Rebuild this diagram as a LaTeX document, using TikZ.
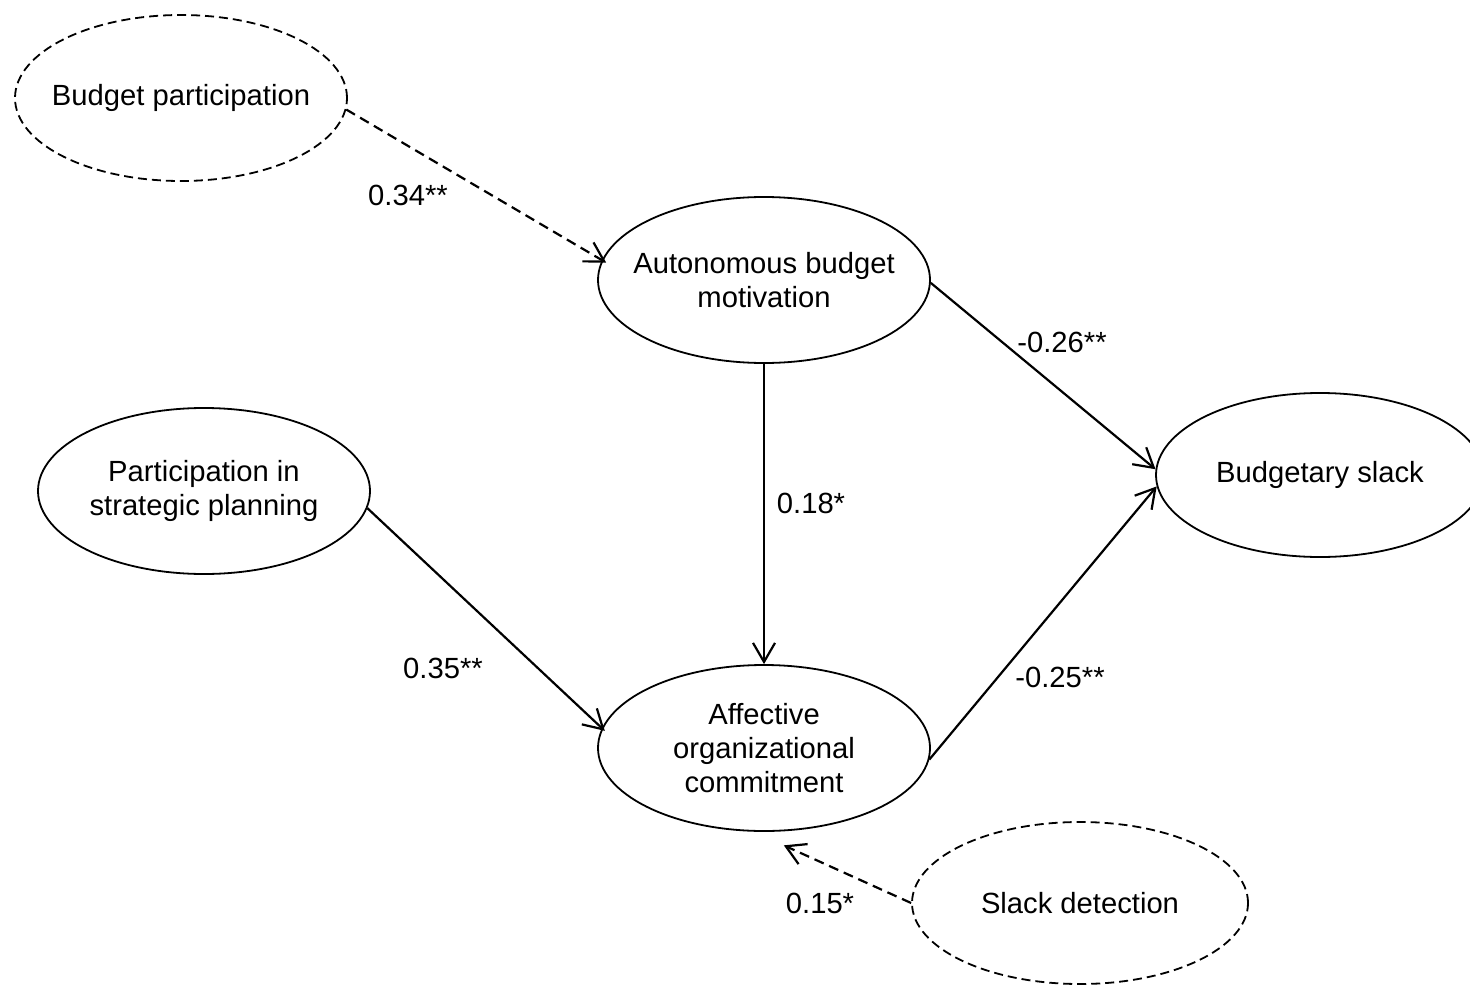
\documentclass[tikz,border=0pt]{standalone}
\usepackage{fontspec}
\setmainfont{Liberation Sans}
\usetikzlibrary{shapes.geometric,arrows.meta}
\begin{document}
\begin{tikzpicture}[x=0.5pt,y=-0.5pt,
  construct/.style={ellipse, draw, line width=0.9pt, minimum width=166pt,
    minimum height=83pt, inner xsep=-10pt, inner ysep=0pt, align=center,
    font=\fontsize{14.6pt}{17pt}\selectfont},
  latentdash/.style={construct, dash pattern=on 4.5pt off 2.5pt},
  effect/.style={line width=1.1pt, -{Straight Barb[length=9.5pt,width=11pt]}},
  dasheffect/.style={effect, dash pattern=on 5pt off 3pt},
  coef/.style={font=\fontsize{14.6pt}{17pt}\selectfont, inner sep=0pt}]
\useasboundingbox (0,0) rectangle (1470,984);
\clip (0,0) rectangle (1470,984);

% constructs
\node[latentdash] (bp)  at (181,98)   {Budget participation};
\node[construct]  (abm) at (764,280)  {Autonomous budget\\motivation};
\node[construct]  (psp) at (204,491)  {Participation in\\strategic planning};
\node[construct]  (aoc) at (764,748)  {Affective\\organizational\\commitment};
\node[construct, minimum width=164pt, minimum height=82pt] (bs) at (1320,475) {Budgetary slack};
\node[latentdash, minimum width=168pt, minimum height=81pt, text depth=-1.5pt] (sd) at (1080,903) {Slack detection};

% paths
\draw[dasheffect, shorten >=-2.5pt] (bp.-4) -- (abm.173);
\draw[effect] (abm.-1) -- (bs.178);
\draw[effect] (abm.south) -- (aoc.north);
\draw[effect, shorten >=-2pt] (psp.-6) -- (aoc.173);
\draw[effect] (aoc.-4) -- (bs.-176);
\draw[dasheffect, shorten >=16.5pt] (sd.180) -- (aoc.-97.6);

% path coefficients
\node[coef] (c1) at (408,195) {0.34**};
\node[coef] (c2) at (1062,342) {-0.26**};
\node[coef] (c3) at (811,503) {0.18*};
\node[coef] (c4) at (443,668) {0.35**};
\node[coef] (c5) at (1060,677) {-0.25**};
\node[coef] (c6) at (820,903) {0.15*};
\end{tikzpicture}
\end{document}
